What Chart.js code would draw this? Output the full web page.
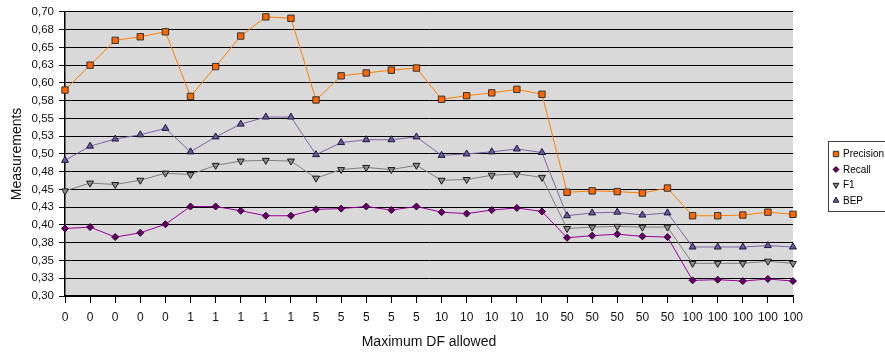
<!DOCTYPE html>
<html>
<head>
<meta charset="utf-8">
<script src="https://cdn.jsdelivr.net/npm/chart.js"></script>
<style>
html,body{margin:0;padding:0;background:#fff;}
#wrap{width:885px;height:353px;}
</style>
</head>
<body>
<div id="wrap"><canvas id="c" width="885" height="353"></canvas></div>
<script>
const categories = ['0','0','0','0','0','1','1','1','1','1','5','5','5','5','5','10','10','10','10','10','50','50','50','50','50','100','100','100','100','100'];
const precision = [0.590,0.625,0.660,0.665,0.672,0.581,0.623,0.666,0.693,0.691,0.576,0.610,0.614,0.618,0.621,0.577,0.582,0.586,0.591,0.584,0.446,0.448,0.447,0.445,0.452,0.413,0.413,0.414,0.418,0.415];
const recall = [0.395,0.397,0.383,0.389,0.401,0.426,0.426,0.420,0.413,0.413,0.422,0.423,0.426,0.421,0.426,0.418,0.416,0.421,0.424,0.419,0.382,0.385,0.387,0.384,0.383,0.322,0.323,0.321,0.324,0.321];
const f1 = [0.448,0.459,0.457,0.463,0.473,0.471,0.484,0.490,0.491,0.490,0.466,0.478,0.481,0.478,0.484,0.463,0.464,0.470,0.472,0.467,0.395,0.397,0.398,0.397,0.397,0.346,0.346,0.346,0.349,0.346];
const bep = [0.491,0.511,0.521,0.527,0.536,0.503,0.524,0.542,0.552,0.552,0.499,0.516,0.520,0.520,0.524,0.498,0.500,0.503,0.507,0.502,0.413,0.417,0.418,0.414,0.417,0.369,0.369,0.369,0.371,0.369];
const yTickLabels = ['0,30','0,33','0,35','0,38','0,40','0,43','0,45','0,48','0,50','0,53','0,55','0,58','0,60','0,63','0,65','0,68','0,70'];
const seriesNames = ['Precision','Recall','F1','BEP'];

const FONT = "'Liberation Sans', Arial, sans-serif";

const plotBg = {
  id: 'plotBg',
  beforeDraw(chart) {
    const {ctx, chartArea: a} = chart;
    ctx.save();
    ctx.fillStyle = '#D9D9D9';
    ctx.fillRect(a.left, a.top, a.right - a.left, a.bottom - a.top);
    ctx.restore();
  }
};

const boxLegend = {
  id: 'boxLegend',
  afterDraw(chart) {
    const ctx = chart.ctx;
    ctx.save();
    ctx.fillStyle = '#ffffff';
    ctx.strokeStyle = '#404040';
    ctx.lineWidth = 1;
    ctx.fillRect(828.5, 141.5, 70, 70);
    ctx.strokeRect(828.5, 141.5, 70, 70);
    chart.data.datasets.forEach((ds, i) => {
      const y = 154 + i * 15.5;
      ctx.fillStyle = ds.pointBackgroundColor;
      ctx.strokeStyle = ds.pointBorderColor;
      ctx.lineWidth = 1;
      Chart.helpers.drawPoint(ctx, {pointStyle: ds.pointStyle, rotation: ds.pointRotation || 0, radius: ds.pointRadius * 0.85, borderWidth: 1}, 836, y);
      ctx.fillStyle = '#000';
      ctx.font = "10px " + FONT;
      ctx.textBaseline = 'middle';
      ctx.textAlign = 'left';
      ctx.fillText(ds.label, 843, y + 0.5);
    });
    ctx.restore();
  }
};

new Chart(document.getElementById('c'), {
  type: 'line',
  data: {
    labels: categories,
    datasets: [
      {label: seriesNames[0], data: precision, borderColor: '#FF8000', borderWidth: 1,
       pointStyle: 'rect', pointRadius: 4.5, pointBackgroundColor: '#FF6600', pointBorderColor: '#333333', pointBorderWidth: 1},
      {label: seriesNames[1], data: recall, borderColor: '#990099', borderWidth: 1,
       pointStyle: 'rectRot', pointRadius: 3.5, pointBackgroundColor: '#660066', pointBorderColor: '#330033', pointBorderWidth: 1},
      {label: seriesNames[2], data: f1, borderColor: '#808080', borderWidth: 1,
       pointStyle: 'triangle', pointRotation: 180, pointRadius: 4, pointBackgroundColor: '#8C8C8C', pointBorderColor: '#1a1a1a', pointBorderWidth: 1},
      {label: seriesNames[3], data: bep, borderColor: '#8064A2', borderWidth: 1,
       pointStyle: 'triangle', pointRadius: 4, pointBackgroundColor: '#6A5A9A', pointBorderColor: '#1a1a40', pointBorderWidth: 1}
    ]
  },
  options: {
    responsive: false,
    animation: false,
    layout: {padding: {top: 10, right: 92, left: 0, bottom: 0}},
    plugins: {legend: {display: false}, tooltip: {enabled: false}},
    elements: {line: {tension: 0}},
    scales: {
      x: {
        offset: false,
        grid: {drawOnChartArea: false, drawTicks: true, tickLength: 7, color: '#000', tickWidth: 1},
        border: {color: '#000', width: 1.5},
        ticks: {autoSkip: false, maxRotation: 0, minRotation: 0, padding: 7, color: '#111', font: {family: FONT, size: 12}},
        title: {display: true, text: 'Maximum DF allowed', color: '#111', font: {family: FONT, size: 14}, padding: {top: 0, bottom: 2.5}},
        afterFit(scale) { scale.height = 57; }
      },
      y: {
        min: 0.30, max: 0.70,
        grid: {color: '#000', lineWidth: 1, tickLength: 6, drawTicks: true},
        border: {color: '#000', width: 1.5},
        ticks: {stepSize: 0.025, padding: 5, color: '#111', font: {family: FONT, size: 11.5},
          callback: (v, i) => yTickLabels[i]},
        title: {display: true, text: 'Measurements', color: '#111', font: {family: FONT, size: 14}, padding: {top: 9, bottom: 0}},
        afterFit(scale) { scale.width = 65; }
      }
    }
  },
  plugins: [plotBg, boxLegend]
});
</script>
</body>
</html>
